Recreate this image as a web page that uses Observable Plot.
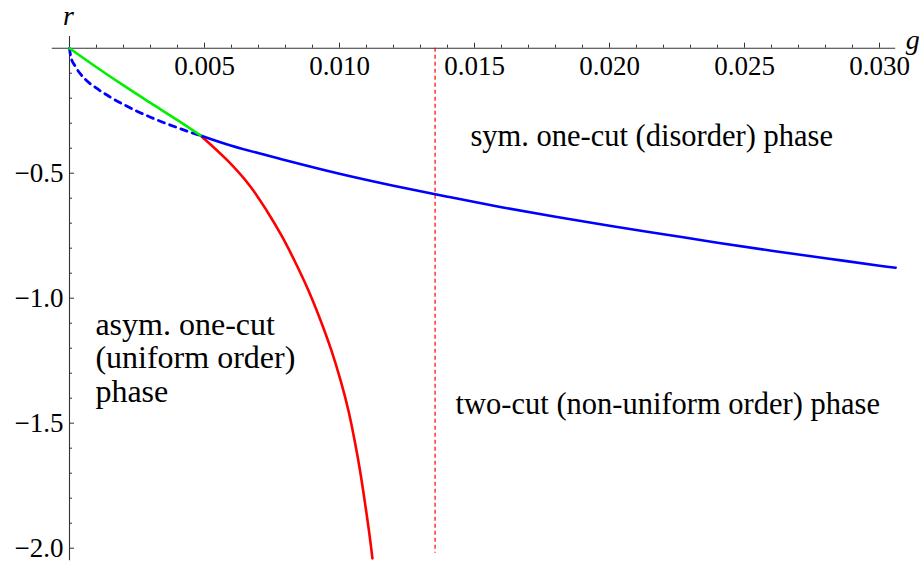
<!DOCTYPE html>
<html>
<head>
<meta charset="utf-8">
<script src="https://cdn.jsdelivr.net/npm/d3@7"></script>
<script src="https://cdn.jsdelivr.net/npm/@observablehq/plot@0.6"></script>
<style>
  html, body { margin: 0; padding: 0; background: #fff; }
  #chart svg { display: block; }
  #chart svg text { font-family: "Liberation Serif", "Times New Roman", serif !important; }
</style>
</head>
<body>
<div id="chart"></div>
<script>
// ---- data ----
const blueSolidG = [0.00485, 0.006, 0.008, 0.010, 0.012, 0.014, 0.016, 0.018, 0.020, 0.022, 0.024, 0.026, 0.028, 0.030, 0.0306];
const blueSolidR = [-0.349, -0.39, -0.448, -0.502, -0.55, -0.594, -0.636, -0.674, -0.71, -0.744, -0.778, -0.81, -0.84, -0.87, -0.878];

const blueDashG = [0, 0.00005, 0.0002, 0.0005, 0.001, 0.0015, 0.002, 0.0025, 0.003, 0.0035, 0.004, 0.0045, 0.00485];
const blueDashR = [0, -0.035, -0.07, -0.115, -0.16, -0.195, -0.225, -0.252, -0.276, -0.298, -0.318, -0.337, -0.349];

const greenG = [0, 0.001, 0.002, 0.003, 0.004, 0.00485];
const greenR = [0, -0.076, -0.149, -0.219, -0.288, -0.349];

const redG = [0.00485, 0.00585, 0.00667, 0.0073, 0.00785, 0.00833, 0.00885, 0.0093, 0.0097, 0.01004, 0.01033, 0.01056, 0.01076, 0.01093, 0.01109, 0.01122];
const redR = [-0.349, -0.449, -0.549, -0.649, -0.749, -0.849, -0.969, -1.089, -1.209, -1.329, -1.449, -1.569, -1.689, -1.809, -1.929, -2.041];

const criticalG = 0.01354;          // red dashed vertical line
const criticalSpan = [0, -2.02];

const xTickValues = [0.005, 0.010, 0.015, 0.020, 0.025, 0.030];
const xTickLabels = ["0.005", "0.010", "0.015", "0.020", "0.025", "0.030"];
const yTickValues = [-0.5, -1.0, -1.5, -2.0];
const yTickLabels = ["\u22120.5", "\u22121.0", "\u22121.5", "\u22122.0"];
const xMinor = d3.range(1, 31).map(i => i / 1000).filter(v => !xTickValues.some(t => Math.abs(t - v) < 1e-9));
const yMinor = d3.range(1, 21).map(i => -i / 10).filter(v => !yTickValues.some(t => Math.abs(t - v) < 1e-9));
const xAxisExtent = [-0.00064, 0.0306];
const yAxisExtent = [0.047, -2.05];

const regionLabels = ["sym. one-cut (disorder) phase", "two-cut (non-uniform order) phase", "asym. one-cut\n(uniform order)\nphase"];
const regionG = [0.01485, 0.0143, 0.00096];
const regionR = [-0.351, -1.423, -1.237];
const regionSize = [30.5, 30.5, 32];

// ---- build tables ----
const zip = (gs, rs) => gs.map((g, i) => ({g, r: rs[i]}));
const blueSolid = zip(blueSolidG, blueSolidR);
const blueDash = zip(blueDashG, blueDashR);
const green = zip(greenG, greenR);
const red = zip(redG, redR);
const xTicks = xTickValues.map((v, i) => ({v, label: xTickLabels[i]}));
const yTicks = yTickValues.map((v, i) => ({v, label: yTickLabels[i]}));
const regions = regionLabels.map((t, i) => ({t, g: regionG[i], r: regionR[i], s: regionSize[i]}));

const W = 923, H = 563;
const font = "Liberation Serif";
const axisColor = "#333";
const pxX = 1 / 27000, pxY = 1 / 250;

const chart = Plot.plot({
  width: W,
  height: H,
  marginLeft: 0, marginRight: 0, marginTop: 0, marginBottom: 0,
  style: {background: "#fff", overflow: "visible"},
  x: {domain: [0, 0.03], range: [69, 879], axis: null},
  y: {domain: [0, -2], range: [47.7, 547.7], axis: null},
  marks: [
    Plot.ruleY([0], {x1: xAxisExtent[0], x2: xAxisExtent[1], stroke: axisColor, strokeWidth: 1.1}),
    Plot.ruleX([0], {y1: yAxisExtent[0], y2: yAxisExtent[1], stroke: axisColor, strokeWidth: 1.1}),
    Plot.ruleX(xTickValues, {x: d => d, y1: 0, y2: 5 * pxY, stroke: axisColor, strokeWidth: 1}),
    Plot.ruleX(xMinor, {x: d => d, y1: 0, y2: 3 * pxY, stroke: axisColor, strokeWidth: 1}),
    Plot.ruleY(yTickValues, {y: d => d, x1: 0, x2: 5 * pxX, stroke: axisColor, strokeWidth: 1}),
    Plot.ruleY(yMinor, {y: d => d, x1: 0, x2: 3 * pxX, stroke: axisColor, strokeWidth: 1}),
    Plot.text(xTicks, {x: "v", y: 0, text: "label", dy: 18, fontSize: 27, fontFamily: font, fill: "#000", textAnchor: "middle"}),
    Plot.text(yTicks, {x: 0, y: "v", text: "label", dx: -6, fontSize: 27, fontFamily: font, fill: "#000", textAnchor: "end"}),
    Plot.text(["r"], {x: 0, y: yAxisExtent[0], text: d => d, dy: -20, dx: -1, fontSize: 28, fontFamily: font, fontStyle: "italic", fill: "#000"}),
    Plot.text(["g"], {x: xAxisExtent[1], y: 0, text: d => d, dx: 17, dy: -8, fontSize: 28, fontFamily: font, fontStyle: "italic", fill: "#000"}),
    Plot.ruleX([criticalG], {x: d => d, y1: criticalSpan[0], y2: criticalSpan[1], stroke: "#ff0000", strokeWidth: 1.2, strokeDasharray: "4,3"}),
    Plot.line(blueDash, {x: "g", y: "r", stroke: "#0000ff", strokeWidth: 2.8, strokeDasharray: "6.5,5.5", curve: "monotone-x"}),
    Plot.line(red, {x: "g", y: "r", stroke: "#ff0000", strokeWidth: 2.6, curve: "catmull-rom"}),
    Plot.line(blueSolid, {x: "g", y: "r", stroke: "#0000ff", strokeWidth: 2.6, curve: "catmull-rom"}),
    Plot.line(green, {x: "g", y: "r", stroke: "#00f000", strokeWidth: 2.6, curve: "catmull-rom"}),
    Plot.text(regions, {x: "g", y: "r", text: "t", textAnchor: "start", fontSize: "s", fontFamily: font, fill: "#000", lineHeight: 1.05})
  ]
});
document.getElementById("chart").appendChild(chart);
</script>
</body>
</html>
